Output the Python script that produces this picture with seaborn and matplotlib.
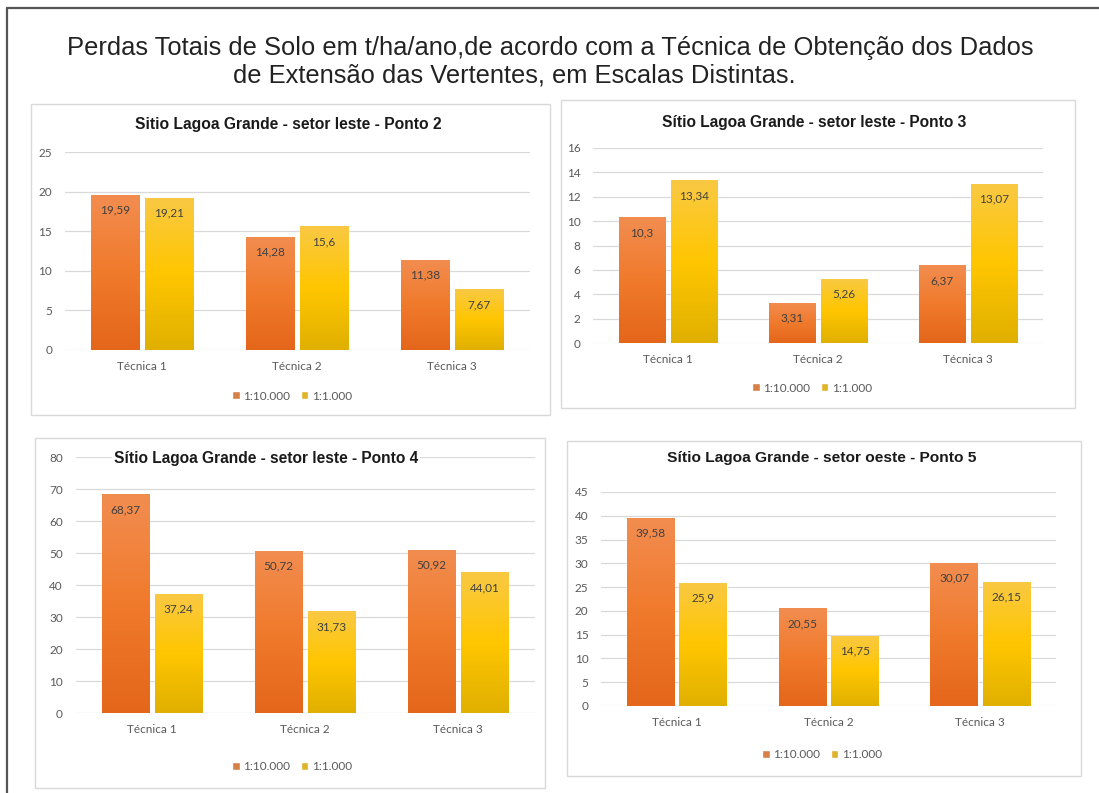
import numpy as np
import pandas as pd
import matplotlib
matplotlib.use("Agg")
import matplotlib.pyplot as plt
from matplotlib.colors import LinearSegmentedColormap
from matplotlib.patches import Rectangle
from matplotlib.lines import Line2D
import seaborn as sns

# data
tecnicas = ["Técnica 1", "Técnica 2", "Técnica 3"]
escalas = ["1:10.000", "1:1.000"]

ponto2_10000 = [19.59, 14.28, 11.38]
ponto2_1000 = [19.21, 15.6, 7.67]
ponto3_10000 = [10.3, 3.31, 6.37]
ponto3_1000 = [13.34, 5.26, 13.07]
ponto4_10000 = [68.37, 50.72, 50.92]
ponto4_1000 = [37.24, 31.73, 44.01]
ponto5_10000 = [39.58, 20.55, 30.07]
ponto5_1000 = [25.9, 14.75, 26.15]

titulos = [
    "Sitio Lagoa Grande - setor leste - Ponto 2",
    "Sítio Lagoa Grande - setor leste - Ponto 3",
    "Sítio Lagoa Grande - setor leste - Ponto 4",
    "Sítio Lagoa Grande - setor oeste - Ponto 5",
]
y_max = [25, 16, 80, 45]
y_step = [5, 2, 10, 5]

titulo_1 = "Perdas Totais de Solo em t/ha/ano,de acordo com a Técnica de Obtenção dos Dados"
titulo_2 = "de Extensão das Vertentes, em Escalas Distintas."

series = [
    (ponto2_10000, ponto2_1000),
    (ponto3_10000, ponto3_1000),
    (ponto4_10000, ponto4_1000),
    (ponto5_10000, ponto5_1000),
]

# layout in pixels of the 1099x793 picture
W, H = 1099, 793
layout = [
    dict(box=(31, 104, 550, 415), ax=(64.5, 152, 529.5, 350), title=(288, 125, 309), leg=(292, 396)),
    dict(box=(561, 100, 1075, 408), ax=(593, 148, 1043, 343), title=(814, 122, 305), leg=(812, 388)),
    dict(box=(35, 438, 545, 788), ax=(75.5, 457, 534.5, 713), title=(266, 459, 305), leg=(292, 767)),
    dict(box=(567, 441, 1081, 776), ax=(601, 492, 1056, 706), title=(822, 458, 309), leg=(822, 755)),
]

cores = {"1:10.000": "#EF7B2E", "1:1.000": "#FFC20A"}
gradientes = {
    "1:10.000": ["#E4661B", "#F07A2C", "#F28D50"],
    "1:1.000": ["#E0B000", "#FFC600", "#F9C944"],
}

sns.set_style("white")
plt.rcParams["font.family"] = ["Lato", "DejaVu Sans"]

fig = plt.figure(figsize=(W / 100, H / 100), dpi=100)
fig.patch.set_facecolor("white")


def fig_rect(x0, y0, x1, y1):
    return [x0 / W, 1 - y1 / H, (x1 - x0) / W, (y1 - y0) / H]


def fit_width(txt, target):
    renderer = fig.canvas.get_renderer()
    for _ in range(3):
        bb = txt.get_window_extent(renderer)
        txt.set_fontsize(txt.get_fontsize() * target / bb.width)


def fmt(v):
    return f"{v:g}".replace(".", ",")


# page border
fig.add_artist(Line2D([7 / W, 1], [1 - 8 / H, 1 - 8 / H], transform=fig.transFigure, color="#555555", lw=1.6))
fig.add_artist(Line2D([7 / W, 7 / W], [1 - 8 / H, 0], transform=fig.transFigure, color="#555555", lw=1.6))

t1 = fig.text(550 / W, 1 - 48 / H, titulo_1, ha="center", va="center", fontsize=17,
              family="Liberation Sans", color="#222222")
t2 = fig.text(514 / W, 1 - 76 / H, titulo_2, ha="center", va="center", fontsize=17,
              family="Liberation Sans", color="#222222")
fit_width(t1, 967)
fit_width(t2, 564)

for i, (lay, (v10000, v1000)) in enumerate(zip(layout, series)):
    bx0, by0, bx1, by1 = lay["box"]
    fig.add_artist(Rectangle((bx0 / W, 1 - by1 / H), (bx1 - bx0) / W, (by1 - by0) / H,
                             transform=fig.transFigure, fill=False, edgecolor="#d9d9d9", lw=1))

    df = pd.DataFrame({
        "tecnica": tecnicas * 2,
        "escala": [escalas[0]] * 3 + [escalas[1]] * 3,
        "valor": v10000 + v1000,
    })

    ax = fig.add_axes(fig_rect(*lay["ax"]))
    sns.barplot(data=df, x="tecnica", y="valor", hue="escala", hue_order=escalas,
                palette=cores, width=0.69, gap=0.1, ax=ax, zorder=2)

    ax.set_ylim(0, y_max[i])
    ax.set_yticks(np.arange(0, y_max[i] + 0.1, y_step[i]))
    ax.set_xlim(-0.5, 2.5)
    xl, yl = ax.get_xlim(), ax.get_ylim()

    # gradient fill clipped to each bar
    for cont, esc in zip(ax.containers, escalas):
        cmap = LinearSegmentedColormap.from_list(esc, gradientes[esc])
        for bar in cont:
            x0, w, h = bar.get_x(), bar.get_width(), bar.get_height()
            im = ax.imshow(np.linspace(0, 1, 256).reshape(-1, 1), cmap=cmap, origin="lower",
                           extent=(x0, x0 + w, 0, h), aspect="auto", zorder=2.1)
            im.set_clip_path(bar)
        labels = ax.bar_label(cont, labels=[fmt(v) for v in cont.datavalues], padding=-11,
                              fontsize=8.5, color="#404040")
        for t in labels:
            t.set_va("center")
            t.set_zorder(5)
    ax.set_xlim(xl)
    ax.set_ylim(yl)

    ax.grid(axis="y", color="#d9d9d9", lw=0.9, zorder=0)
    ax.set_axisbelow(True)
    for s in ax.spines.values():
        s.set_visible(False)
    ax.tick_params(axis="y", length=0, pad=9, labelsize=8.5, labelcolor="#595959")
    ax.tick_params(axis="x", length=0, pad=8, labelsize=8.5, labelcolor="#595959")
    ax.set_xlabel("")
    ax.set_ylabel("")

    handles, labs = ax.get_legend_handles_labels()
    lx, ly = lay["leg"]
    ax.legend(handles, labs, loc="center", bbox_to_anchor=(lx / W, 1 - ly / H),
              bbox_transform=fig.transFigure, ncol=2, frameon=False, fontsize=8.5,
              handlelength=0.65, handleheight=0.65, handletextpad=0.3, columnspacing=0.9,
              labelcolor="#595959")

    tx, ty, tw = lay["title"]
    tt = fig.text(tx / W, 1 - ty / H, titulos[i], ha="center", va="center", fontsize=11,
                  family="Liberation Sans", weight="bold", color="#1a1a1a",
                  bbox=dict(facecolor="white", edgecolor="none", pad=1) if i == 2 else None)
    fit_width(tt, tw)

fig.savefig("out.png", dpi=100)
